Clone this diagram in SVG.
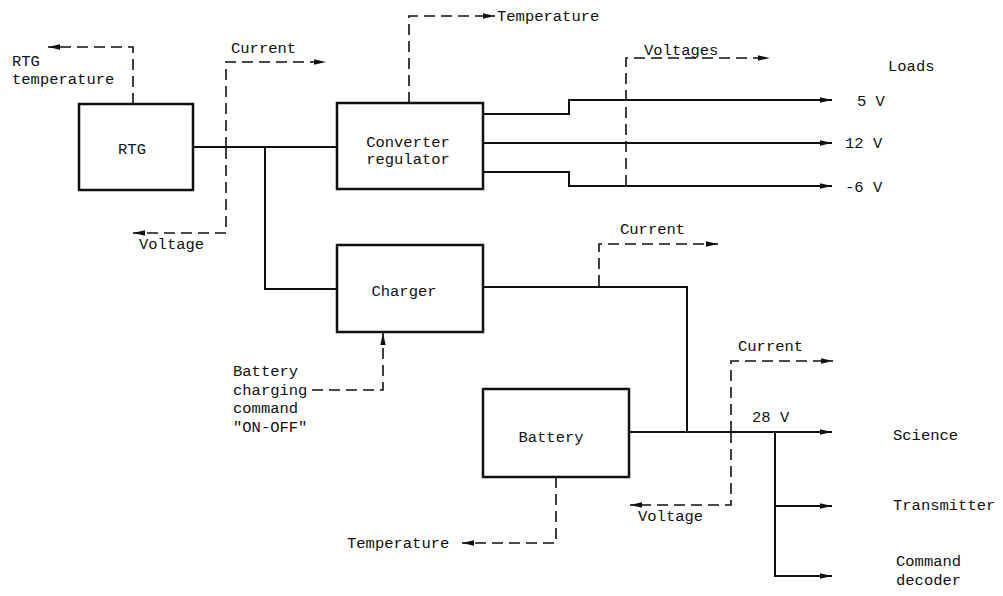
<svg xmlns="http://www.w3.org/2000/svg" width="1003" height="596" viewBox="0 0 1003 596">
<style>
.box{fill:#fff;stroke:#111;stroke-width:2.5}
.w{fill:none;stroke:#111;stroke-width:2}
.d{fill:none;stroke:#111;stroke-width:1.6;stroke-dasharray:11,6}
text{font-family:"Liberation Mono","DejaVu Sans Mono",monospace;font-size:15.5px;fill:#111}
.c{text-anchor:middle}
</style>
<defs>
<marker id="ah" markerUnits="userSpaceOnUse" markerWidth="12" markerHeight="7" refX="12" refY="3.5" orient="auto">
<path d="M0,0.8 L12,3.5 L0,6.2 z" fill="#111"/>
</marker>
</defs>
<rect width="1003" height="596" fill="#fff"/>
<g id="connectors">
<path class="w" d="M193,147 H337"/>
<path class="w" d="M265,147 V289 H337"/>
<path class="w" d="M483,114 H569 V100 H832" marker-end="url(#ah)"/>
<path class="w" d="M483,143 H832" marker-end="url(#ah)"/>
<path class="w" d="M483,172 H569 V186 H832" marker-end="url(#ah)"/>
<path class="w" d="M483,287 H687 V432"/>
<path class="w" d="M629,432 H832" marker-end="url(#ah)"/>
<path class="w" d="M775,432 V576 H832" marker-end="url(#ah)"/>
<path class="w" d="M775,506 H832" marker-end="url(#ah)"/>
<path class="d" d="M133,104 V47 H48" marker-end="url(#ah)"/>
<path class="d" d="M226,148 V62 H326" marker-end="url(#ah)"/>
<path class="d" d="M226,148 V233 H133" marker-end="url(#ah)"/>
<path class="d" d="M409,103 V16 H495" marker-end="url(#ah)"/>
<path class="d" d="M626,186 V58 H770" marker-end="url(#ah)"/>
<path class="d" d="M599,286 V244 H718" marker-end="url(#ah)"/>
<path class="d" d="M312,390 H383 V333" marker-end="url(#ah)"/>
<path class="d" d="M556,477 V543 H462" marker-end="url(#ah)"/>
<path class="d" d="M731,432 V361 H833" marker-end="url(#ah)"/>
<path class="d" d="M731,432 V505 H630" marker-end="url(#ah)"/>
</g>
<g id="rtg">
<rect class="box" x="79" y="104" width="114" height="86"/>
<text class="c" x="132" y="154">RTG</text>
</g>
<g id="converter">
<rect class="box" x="337" y="103" width="146" height="86"/>
<text class="c" x="408" y="147">Converter</text>
<text class="c" x="408" y="164">regulator</text>
</g>
<g id="charger">
<rect class="box" x="337" y="245" width="146" height="87"/>
<text class="c" x="404" y="296">Charger</text>
</g>
<g id="battery">
<rect class="box" x="483" y="389" width="146" height="88"/>
<text class="c" x="551" y="442">Battery</text>
</g>
<g id="labels">
<text x="12" y="66">RTG</text>
<text x="12" y="84">temperature</text>
<text x="231" y="53">Current</text>
<text x="139" y="249">Voltage</text>
<text x="497" y="21">Temperature</text>
<text x="644" y="55">Voltages</text>
<text x="888" y="71">Loads</text>
<text x="857" y="106">5 V</text>
<text x="845" y="148">12 V</text>
<text x="845" y="192">-6 V</text>
<text x="620" y="234">Current</text>
<text x="233" y="376">Battery</text>
<text x="233" y="395">charging</text>
<text x="233" y="413">command</text>
<text x="233" y="432">"ON-OFF"</text>
<text x="738" y="351">Current</text>
<text x="752" y="422">28 V</text>
<text x="893" y="440">Science</text>
<text x="893" y="510">Transmitter</text>
<text x="896" y="566">Command</text>
<text x="896" y="585">decoder</text>
<text x="638" y="521">Voltage</text>
<text x="347" y="548">Temperature</text>
</g>
</svg>
